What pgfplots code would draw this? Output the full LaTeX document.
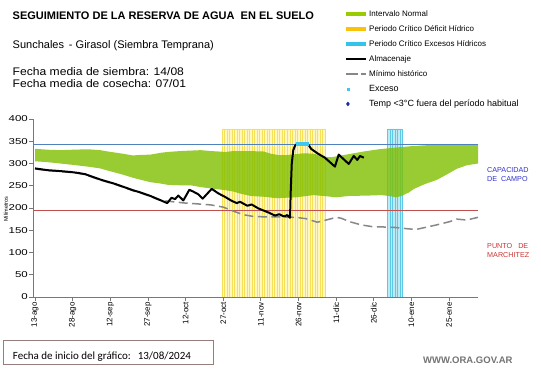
\documentclass[border=0pt]{standalone}
\usepackage{pgfplots}
\pgfplotsset{compat=1.18}
\usepackage{pgfplotstable}
\usepgfplotslibrary{fillbetween}
\usepackage{fontspec}
\setmainfont{Liberation Sans}
\newfontfamily\carlito{Carlito}

\definecolor{bandgreen}{RGB}{153,204,0}
\definecolor{banddeep}{RGB}{128,191,0}
\definecolor{ygold}{RGB}{246,224,90}
\definecolor{ypale}{RGB}{255,247,195}
\definecolor{ylegend}{RGB}{248,195,10}
\definecolor{cyedge}{RGB}{95,200,228}
\definecolor{cypale}{RGB}{190,234,246}
\definecolor{cylegend}{RGB}{50,196,235}
\definecolor{capblue}{RGB}{79,129,189}
\definecolor{wpred}{RGB}{192,80,77}
\definecolor{axgrey}{RGB}{120,120,120}
\definecolor{mingrey}{RGB}{135,135,135}
\definecolor{excyan}{RGB}{60,200,240}
\definecolor{tempblue}{RGB}{25,45,165}
\definecolor{labblue}{RGB}{51,51,204}
\definecolor{labred}{RGB}{204,51,51}
\definecolor{wwwgrey}{RGB}{115,115,115}
\definecolor{boxcol}{RGB}{150,125,125}

\pgfplotsset{
  lineleg/.style={legend image code/.code={\draw[##1] (0pt,0pt) -- (20pt,0pt);}},
  markleg/.style={legend image code/.code={\draw[##1] plot[only marks] coordinates {(2pt,0pt)};}},
}

\pgfplotstableread{
d v
0 333
5 331
10 330
15 331
21 332
26 330
29 327
35 322
39 318
41 319
46 320
50 324
53 326
58 328
62 329
66 330
70 328
76 326
79 328
85 328
91 327
94 322
97 319
100 319
104 321
107 323
111 322
115.5 315
118 314
124 320
131 327
137 332
144 336
150 339
157 341.5
161 343
176.5 343
}\bandup

\pgfplotstableread{
d v
0 305
5 303
10 300
15 297
21 293
26 289
29 284
35 275
39 268
41 265
46 258
50 255
53 252
58 251
62 251
66 247
70 244
76 240
79 237
82 232
86 227
92 225
96 222
104 224
111 229
115 227
120 224
125 227
133 228
138 229
141 227
144 224
146 227
149 235
151 243
155 253
160 263
164 275
168 288
172 296
176.5 300
}\bandlo

\pgfplotstableread{
d v
0 289
5 285
10 283
14 281
17 279
20 276
23 270
26 264
29 259
32 254
35 248
39 240
42 235
46 227
49.8 218
52.7 211
54.4 223
55.8 220
57.1 228
59.1 217
61.5 241
63 237
65 231
66.8 221
70.4 243
73 233
75.7 225
78.4 216
80.4 211
81.7 214
84.6 205
86.3 208
89 199
93 190
95.6 183
97.3 186
99.2 181
100.5 184
101.6 178
101.9 240
102.3 300
102.9 330
103.6 340
104.4 344
106 345
108.6 345
110 333
112.5 323
115.5 313
119.5 293
121 320
125 299
127 317
128.4 308
129.5 317
131 313
}\almac

\pgfplotstableread{
d v
0 288
5 284
10 282
14 280
17 278
20 275
23 269
26 263
29 258
32 253
35 247
39 239
42 234
46 226
49 219
52 216
55 214
60 211
63 210
70 207
75 202
79 193
83 185
87 181
92 180
97.6 180
104 179
108 176
112.5 168
116 173
120 179
122 177
125.5 169
130 162
134.5 158
141 157
144 156
149 153
152 152
156 157
160 162
165 169
168 175
172 173
176.5 179
}\minhist

\begin{document}
\begin{tikzpicture}
\path (0pt,0pt) rectangle (541pt,368pt);

\node[anchor=base west, font=\bfseries\fontsize{11}{13}\selectfont, inner sep=0pt] at (12.5pt,348.5pt) {SEGUIMIENTO DE LA RESERVA DE AGUA\ \ EN EL SUELO};
\node[anchor=base west, font=\fontsize{11}{13}\selectfont, inner sep=0pt] at (12.5pt,320pt) {Sunchales\hspace{0.45em}- Girasol (Siembra Temprana)};
\node[anchor=base west, font=\fontsize{11}{13}\selectfont, inner sep=0pt, xscale=1.1] at (12.5pt,293pt) {Fecha media de siembra: 14/08};
\node[anchor=base west, font=\fontsize{11}{13}\selectfont, inner sep=0pt, xscale=1.1] at (12.5pt,280.5pt) {Fecha media de cosecha: 07/01};

\node[anchor=base west, font=\fontsize{7.2}{8}\selectfont, text=labblue, inner sep=0pt] at (487pt,195.4pt) {CAPACIDAD};
\node[anchor=base west, font=\fontsize{7.2}{8}\selectfont, text=labblue, inner sep=0pt] at (487pt,186.4pt) {DE\ \ CAMPO};
\node[anchor=base west, font=\fontsize{7.2}{8}\selectfont, text=labred, inner sep=0pt] at (487pt,119.4pt) {PUNTO\ \ \ DE};
\node[anchor=base west, font=\fontsize{7.2}{8}\selectfont, text=labred, inner sep=0pt] at (487pt,110.4pt) {MARCHITEZ};

\draw[boxcol, line width=0.8pt] (3.5pt,4pt) rectangle (213pt,28pt);
\node[anchor=base west, font=\carlito\fontsize{11}{13}\selectfont, inner sep=0pt] at (12.7pt,9pt) {Fecha de inicio del gráfico:\hspace{7pt}13/08/2024};
\node[anchor=base west, font=\bfseries\fontsize{9.5}{11}\selectfont, text=wwwgrey, inner sep=0pt] at (423pt,5pt) {WWW.ORA.GOV.AR};

\begin{axis}[
  set layers,
  at={(33.5pt,71pt)}, anchor=south west,
  scale only axis, width=444.5pt, height=178pt,
  xmin=-0.6, xmax=176.5, ymin=0, ymax=400,
  axis x line=bottom, axis y line=left,
  axis line style={-, color=axgrey, line width=0.9pt},
  tick align=outside, major tick length=4pt,
  tick style={color=axgrey, line width=0.8pt},
  xtick={0,15,30,45,60,75,90,105,120,135,150,165},
  xticklabels={13-ago,28-ago,12-sep,27-sep,12-oct,27-oct,11-nov,26-nov,11-dic,26-dic,10-ene,25-ene},
  xticklabel style={rotate=90, anchor=east, font=\fontsize{8}{9}\selectfont, inner sep=1pt},
  ytick={0,50,...,400},
  yticklabel style={font=\fontsize{8.5}{10}\selectfont, xscale=1.35, inner sep=1pt},
  /pgf/number format/assume math mode=true,
  ylabel={Milímetros},
  ylabel style={at={(axis description cs:-0.0623,0.494)}, anchor=center, font=\fontsize{5.5}{6}\selectfont},
  lineleg,
  legend cell align=left,
  legend style={at={(axis description cs:0.6985,1.618)}, anchor=north west, draw=none, fill=none, inner sep=0pt, row sep=5.5pt, column sep=0.5pt, font=\fontsize{8}{9}\selectfont, nodes={inner sep=1pt, text height=6pt, text depth=1.5pt}},
]
% critical deficit period bars (behind the band)
\addplot[on layer=axis background, ybar, bar width=1, bar shift=0pt, fill=ypale, draw=ygold, line width=0.5pt, forget plot] coordinates {
(75,378) (76,378) (77,378) (78,378) (79,378) (80,378) (81,378) (82,378) (83,378) (84,378)
(85,378) (86,378) (87,378) (88,378) (89,378) (90,378) (91,378) (92,378) (93,378) (94,378)
(95,378) (96,378) (97,378) (98,378) (99,378) (100,378) (101,378) (102,378) (103,378) (104,378)
(105,378) (106,378) (107,378) (108,378) (109,378) (110,378) (111,378) (112,378) (113,378) (114,378)
(115,378)};
% critical excess period bars
\addplot[on layer=axis background, ybar, bar width=1, bar shift=0pt, fill=cypale, draw=cyedge, line width=0.5pt, forget plot] coordinates {
(141,378) (142,378) (143,378) (144,378) (145,378) (146,378)};

% green normal interval
\addplot[name path=up, draw=none, forget plot] table[x=d, y=v] {\bandup};
\addplot[name path=lo, draw=none, forget plot] table[x=d, y=v] {\bandlo};
\addplot[fill=banddeep, fill opacity=0.8, draw=none, forget plot] fill between[of=up and lo];

% field capacity and wilting point
\addplot[capblue, line width=0.8pt, forget plot] coordinates {(-0.6,343) (176.5,343)};
\addplot[wpred, line width=0.8pt, forget plot] coordinates {(-0.6,195) (176.5,195)};

% historic minimum
\addplot[mingrey, line width=1.5pt, dash pattern=on 9pt off 4.5pt, forget plot] table[x=d, y=v] {\minhist};
% storage
\addplot[black, line width=2pt, line join=round, forget plot] table[x=d, y=v] {\almac};
% excess
\addplot[only marks, mark=square*, mark size=1.3pt, color=excyan, forget plot] coordinates {
(104.5,345) (105.5,345) (106.5,345) (107.5,345) (108.5,345)};

\addlegendimage{bandgreen, line width=3.5pt}
\addlegendentry{Intervalo Normal}
\addlegendimage{ylegend, line width=3.5pt}
\addlegendentry{Periodo Crítico Déficit Hídrico}
\addlegendimage{cylegend, line width=3.5pt}
\addlegendentry{Periodo Crítico Excesos Hídricos}
\addlegendimage{black, line width=1.8pt}
\addlegendentry{Almacenaje}
\addlegendimage{mingrey, line width=1.4pt, dash pattern=on 12pt off 3pt}
\addlegendentry{Mínimo histórico}
\addlegendimage{markleg, excyan, mark=square*, mark size=1.2pt}
\addlegendentry{\fontsize{9}{10}\selectfont Exceso}
\addlegendimage{markleg, tempblue, mark=diamond*, mark size=2pt}
\addlegendentry{\fontsize{9}{10}\selectfont Temp <3°C fuera del período habitual}
\end{axis}
\end{tikzpicture}
\end{document}
